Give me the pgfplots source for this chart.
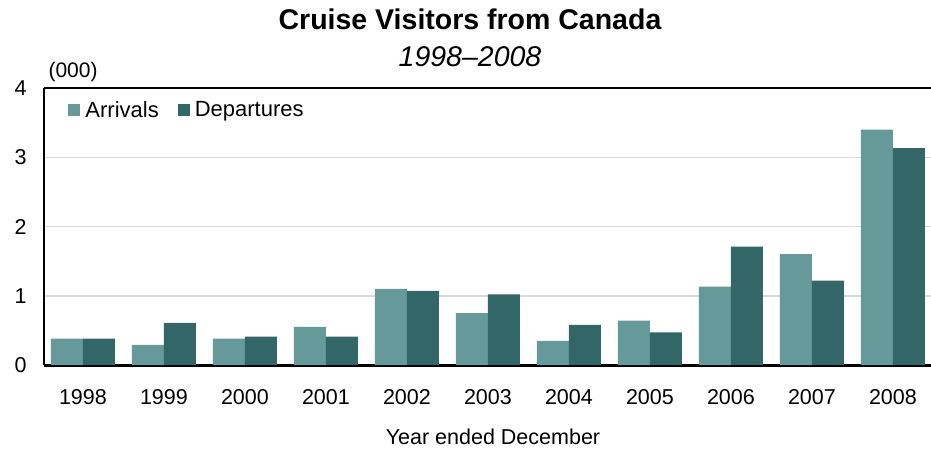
\documentclass[border=0pt]{standalone}
\usepackage{pgfplots}
\pgfplotsset{compat=1.18}
\usepackage{fontspec}
\setmainfont{Liberation Sans}
\definecolor{arr}{HTML}{669999}
\definecolor{dep}{HTML}{336666}
\begin{document}
\begin{tikzpicture}[x=1pt,y=1pt]
\path[use as bounding box] (0,0) rectangle (931,450);
\begin{axis}[
  at={(44pt,85pt)}, anchor=south west,
  scale only axis, width=887pt, height=277pt,
  ybar=0pt, bar width=32pt,
  xmin=-0.481, xmax=10.47, ymin=0, ymax=4,
  xtick=data,
  xticklabels={1998,1999,2000,2001,2002,2003,2004,2005,2006,2007,2008},
  ytick={0,1,2,3}, extra y ticks={4},
  extra y tick style={grid style={black, line width=1.5pt}},
  ymajorgrids, grid style={draw=black!15, line width=1.5pt},
  major tick length=0pt,
  axis x line*=bottom, axis y line*=left,
  x axis line style={line width=3pt, -},
  y axis line style={line width=2pt, -},
  tick label style={font=\fontsize{21.5}{25}\selectfont},
  /pgf/number format/assume math mode=true,
  yticklabel style={xshift=-14pt},
  xticklabel style={yshift=-21pt},
  legend style={draw=none, fill=none, at={(0.024,0.92)}, anchor=west,
    legend columns=2, font=\fontsize{22}{26}\selectfont,
    /tikz/every even column/.append style={column sep=14pt},
    nodes={inner xsep=5pt}},
  legend image code/.code={\fill[#1] (0pt,-6pt) rectangle (12pt,6pt);},
]
\addplot[fill=arr, draw=none] coordinates {(0,0.38) (1,0.29) (2,0.38) (3,0.55) (4,1.10) (5,0.75) (6,0.35) (7,0.64) (8,1.13) (9,1.60) (10,3.40)};
\addplot[fill=dep, draw=none] coordinates {(0,0.38) (1,0.61) (2,0.41) (3,0.41) (4,1.07) (5,1.02) (6,0.58) (7,0.47) (8,1.71) (9,1.22) (10,3.13)};
\legend{Arrivals, Departures}
\end{axis}
\node[font=\fontsize{28.5}{32}\selectfont\bfseries] at (470,431) {Cruise Visitors from Canada};
\node[font=\fontsize{28.5}{32}\selectfont\itshape] at (470,393) {1998–2008};
\node[anchor=west, font=\fontsize{21}{24}\selectfont] at (45,378) {(000)};
\node[font=\fontsize{21.5}{24}\selectfont] at (493,13) {Year ended December};
\end{tikzpicture}
\end{document}
